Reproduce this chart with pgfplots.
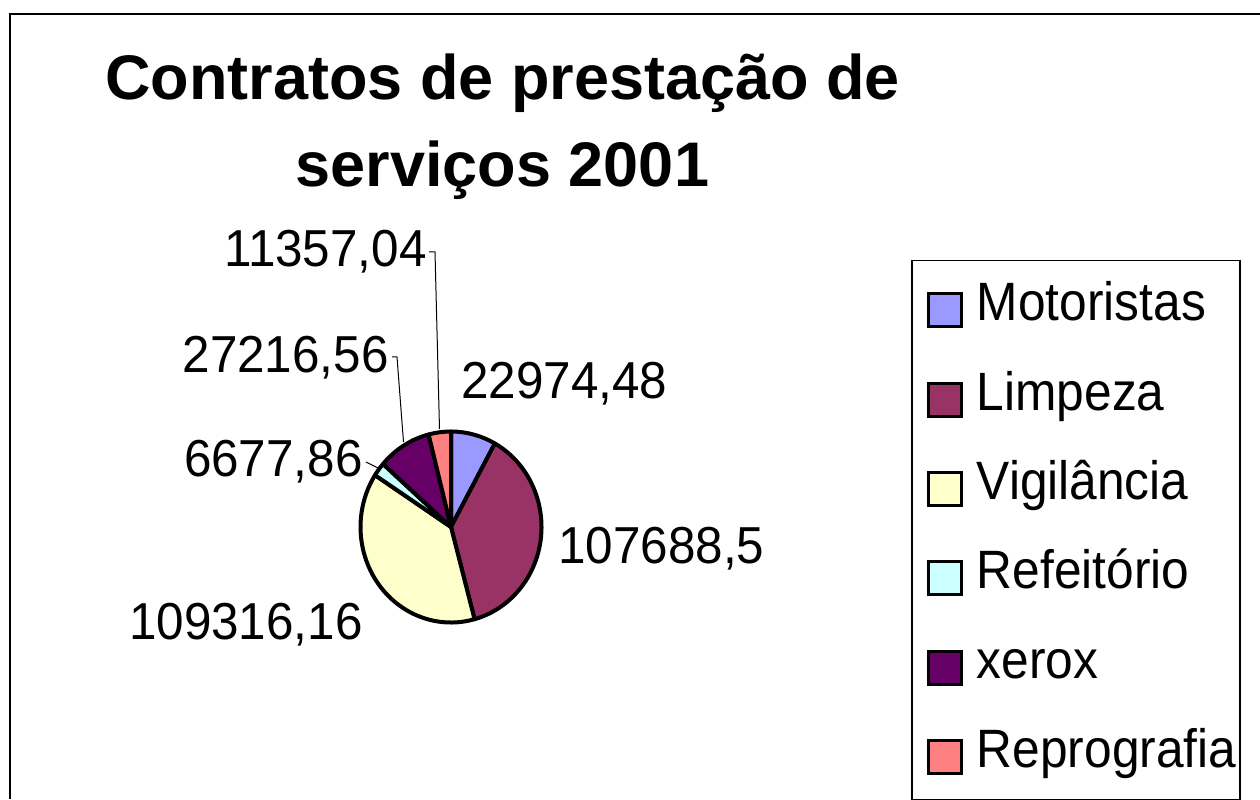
\documentclass[border=0pt]{standalone}
\usepackage{pgfplots}
\pgfplotsset{compat=1.18}
\usepackage{pgfplotstable}
\usepackage{fontspec}
\setmainfont{Liberation Sans}

\definecolor{cA}{HTML}{9999FF}
\definecolor{cB}{HTML}{993366}
\definecolor{cC}{HTML}{FFFFCC}
\definecolor{cD}{HTML}{CCFFFF}
\definecolor{cE}{HTML}{660066}
\definecolor{cF}{HTML}{FF8080}

% values of the chart (clockwise from the top)
\pgfplotstableread{
name value
Motoristas 22974.48
Limpeza 107688.5
Vigilancia 109316.16
Refeitorio 6677.86
xerox 27216.56
Reprografia 11357.04
}\pietable

\newcommand\getval[2]{\pgfplotstablegetelem{#1}{value}\of\pietable\edef#2{\pgfplotsretval}}
\getval{0}\vA \getval{1}\vB \getval{2}\vC \getval{3}\vD \getval{4}\vE \getval{5}\vF
\edef\vT{\fpeval{\vA+\vB+\vC+\vD+\vE+\vF}}
\edef\aA{90}
\edef\aB{\fpeval{90-360*(\vA)/\vT}}
\edef\aC{\fpeval{90-360*(\vA+\vB)/\vT}}
\edef\aD{\fpeval{90-360*(\vA+\vB+\vC)/\vT}}
\edef\aE{\fpeval{90-360*(\vA+\vB+\vC+\vD)/\vT}}
\edef\aF{\fpeval{90-360*(\vA+\vB+\vC+\vD+\vE)/\vT}}
\edef\aG{-270}

\newcommand\slice[3]{%
  \fill[#3, draw=black, line width=2pt, line join=round]
    (axis cs:451,272) -- ++(#1:45.25pt and 47.75pt) arc[start angle=#1, end angle=#2, x radius=45.25pt, y radius=47.75pt] -- cycle;}

\newcommand\lbl{\fontsize{26}{31}\selectfont}
\newcommand\leg{\fontsize{27}{32}\selectfont}

\begin{document}
\begin{tikzpicture}
\begin{axis}[
  at={(0,0)}, anchor=south west,
  x=0.5pt, y=0.5pt,
  xmin=0, xmax=1260, ymin=0, ymax=799,
  hide axis, clip=false,
  legend image code/.code={\draw[#1, line width=1.5pt] (0pt,-10pt) rectangle (16.5pt,6.5pt);},
  legend style={at={(0.72302,0.67459)}, anchor=north west,
    draw=black, line width=0.75pt, inner xsep=7.5pt, inner ysep=10.5pt,
    row sep=19.7pt, column sep=7pt,
    font=\leg,
    nodes={inner sep=0pt, text height=19.5pt, text depth=5.5pt},
    /tikz/every even column/.append style={nodes={xscale=0.92, text width=135pt, align=left}}},
  legend cell align=left,
]
\addlegendimage{fill=cA, draw=black}\addlegendentry{Motoristas}
\addlegendimage{fill=cB, draw=black}\addlegendentry{Limpeza}
\addlegendimage{fill=cC, draw=black}\addlegendentry{Vigilância}
\addlegendimage{fill=cD, draw=black}\addlegendentry{Refeitório}
\addlegendimage{fill=cE, draw=black}\addlegendentry{xerox}
\addlegendimage{fill=cF, draw=black}\addlegendentry{Reprografia}

% frame
\draw[line width=1.2pt] (axis cs:10,0) -- (axis cs:10,785) -- (axis cs:1260,785);

% title
\node[anchor=base, inner sep=0pt, font=\fontsize{31.5}{38}\selectfont\bfseries] at (axis cs:502.5,699) {Contratos de prestação de};
\node[anchor=base, inner sep=0pt, font=\fontsize{31.5}{38}\selectfont\bfseries] at (axis cs:502.5,612) {serviços 2001};

% pie
\slice{\aA}{\aB}{cA}
\slice{\aB}{\aC}{cB}
\slice{\aC}{\aD}{cC}
\slice{\aD}{\aE}{cD}
\slice{\aE}{\aF}{cE}
\slice{\aF}{\aG}{cF}

% leader lines
\draw[line width=0.5pt] (axis cs:429,547) -- (axis cs:435,547) -- (axis cs:439.5,370);
\draw[line width=0.5pt] (axis cs:392,442) -- (axis cs:397,442) -- (axis cs:403.5,357);
\draw[line width=0.5pt] (axis cs:366,337) -- (axis cs:378,331);

% data labels
\node[anchor=base east, inner sep=0pt, xscale=0.95, font=\lbl] at (axis cs:427,532) {11357,04};
\node[anchor=base east, inner sep=0pt, xscale=0.95, font=\lbl] at (axis cs:389,426) {27216,56};
\node[anchor=base east, inner sep=0pt, xscale=0.95, font=\lbl] at (axis cs:363,322) {6677,86};
\node[anchor=base west, inner sep=0pt, xscale=0.95, font=\lbl] at (axis cs:461,400) {22974,48};
\node[anchor=base west, inner sep=0pt, xscale=0.95, font=\lbl] at (axis cs:558,235) {107688,5};
\node[anchor=base east, inner sep=0pt, xscale=0.95, font=\lbl] at (axis cs:363,159) {109316,16};
\end{axis}
\pgfresetboundingbox
\path (0,0) rectangle (630pt,399.5pt);
\end{tikzpicture}
\end{document}
